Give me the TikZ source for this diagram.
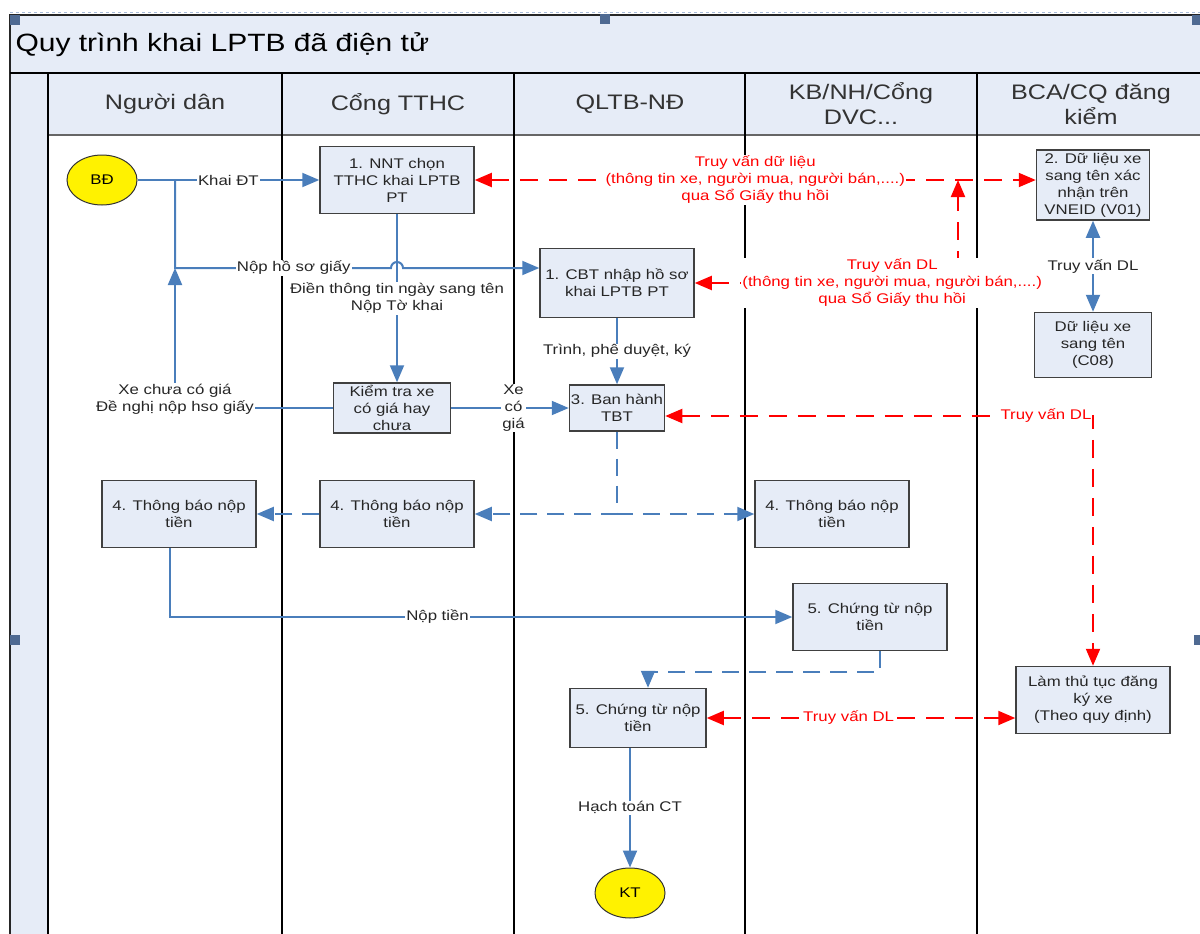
\documentclass[tikz,border=0pt]{standalone}
\usepackage{fontspec}
\setmainfont{Liberation Sans}[FakeStretch=1.2]
\usetikzlibrary{arrows.meta, shapes.geometric}
\definecolor{paleblue}{HTML}{E6ECF7}
\definecolor{flowblue}{HTML}{4A7EBB}
\definecolor{boxgray}{HTML}{404040}
\definecolor{handleblue}{HTML}{4F6A92}
\definecolor{selblue}{HTML}{A8BBD8}

\begin{document}
\begin{tikzpicture}[x=1pt, y=-1pt,
  box/.style={draw=boxgray, line width=1.5pt, fill=paleblue, align=center,
    minimum width=154pt, minimum height=67pt, inner sep=1pt,
    font=\fontsize{14}{17}\selectfont, text=black!85},
  term/.style={draw=black!80, line width=1pt, ellipse, fill=yellow,
    minimum width=70pt, minimum height=50pt, inner sep=0pt,
    font=\fontsize{14}{17}\selectfont},
  lanehead/.style={align=center, font=\fontsize{21}{25}\selectfont, text=black!80},
  lbl/.style={fill=white, inner sep=1pt, align=center,
    font=\fontsize{14}{17}\selectfont, text=black!85},
  redlbl/.style={lbl, text=red},
  arrowend/.style={-{Triangle[length=17pt,width=14pt]}},
  arrowboth/.style={{Triangle[length=17pt,width=14pt]}-{Triangle[length=17pt,width=14pt]}},
  flow/.style={draw=flowblue, line width=2pt, arrowend},
  notice/.style={flow, dash pattern=on 17pt off 10pt},
  query/.style={draw=red, line width=2pt, dash pattern=on 18pt off 11pt, arrowboth},
  laneline/.style={draw=black, line width=2pt}]
\useasboundingbox (0,0) rectangle (1200,934);

% pool and lanes
\fill[paleblue] (10,15) rectangle (1200,73);
\fill[paleblue] (48,73) rectangle (1200,135);
\fill[paleblue] (10,73) rectangle (48,934);
\draw[selblue, dashed, line width=0.8pt] (10,12) -- (1200,12);
\draw[black!85, line width=1.5pt] (1200,15) -- (10,15) -- (10,934);
\draw[black!60, line width=1.2pt] (48,135) -- (1200,135);
\draw[laneline] (10,73) -- (1200,73);
\foreach \x in {48,282,514,745,977}
  \draw[laneline] (\x,73) -- (\x,934);
\foreach \hx/\hy in {10/15, 600/14, 1192/15, 10/635, 1194/635}
  \fill[handleblue] (\hx,\hy) rectangle ++(10,10);

\node[anchor=west, font=\fontsize{25}{30}\selectfont] (title) at (12,45) {Quy trình khai LPTB đã điện tử};
\node[lanehead] (hdan) at (165,104) {Người dân};
\node[lanehead] (hcong) at (398,104) {Cổng TTHC};
\node[lanehead] (hqltb) at (630,104) {QLTB-NĐ};
\node[lanehead] (hkb) at (861,104) {KB/NH/Cổng\\DVC...};
\node[lanehead] (hbca) at (1091,104) {BCA/CQ đăng\\kiểm};

% steps
\node[term] (bd) at (102,180) {BĐ};
\node[box] (nnt) at (397,180) {1. NNT chọn\\TTHC khai LPTB\\PT};
\node[box, minimum width=113pt, minimum height=70pt, inner sep=0pt] (vneid) at (1093,185) {2. Dữ liệu xe\\sang tên xác\\nhận trên\\VNEID (V01)};
\node[box, minimum height=69pt] (cbt) at (617,283) {1. CBT nhập hồ sơ\\khai LPTB PT};
\node[box, minimum width=117pt, minimum height=65pt] (c08) at (1093,345) {Dữ liệu xe\\sang tên\\(C08)};
\node[box, minimum width=117pt, minimum height=50pt, inner sep=0pt] (kiemtra) at (392,408) {Kiểm tra xe\\có giá hay\\chưa};
\node[box, minimum width=95pt, minimum height=46pt] (tbt) at (617,408) {3. Ban hành\\TBT};
\node[box] (tbdan) at (179,514) {4. Thông báo nộp\\tiền};
\node[box] (tbcong) at (397,514) {4. Thông báo nộp\\tiền};
\node[box] (tbkb) at (832,514) {4. Thông báo nộp\\tiền};
\node[box] (ctkb) at (870,617) {5. Chứng từ nộp\\tiền};
\node[box, minimum width=136pt, minimum height=59pt] (ctql) at (638,718) {5. Chứng từ nộp\\tiền};
\node[box] (dangky) at (1093,700) {Làm thủ tục đăng\\ký xe\\(Theo quy định)};
\node[term] (kt) at (630,893) {KT};

\coordinate (split) at (175,180);
\coordinate (paper) at (175,268);
\coordinate (ask) at (958,180);
\coordinate (askdl) at (958,283);

% blue flows
\draw[flow] (bd.east) -- node[lbl]{Khai ĐT} (nnt.west);
\draw[flow] (split) -- (paper) -- node[lbl, pos=0.55]{Nộp hồ sơ giấy} (391,268)
  arc[start angle=180, end angle=0, radius=6pt] -- (paper -| cbt.west);
\draw[flow] (nnt.south) -- node[lbl]{Điền thông tin ngày sang tên\\Nộp Tờ khai} (nnt.south |- kiemtra.north);
\draw[flow] (kiemtra.west) -| node[lbl, pos=0.5, yshift=9pt]{Xe chưa có giá\\Đề nghị nộp hso giấy} (paper);
\draw[flow] (kiemtra.east) -- node[lbl, pos=0.53]{Xe\\có\\giá} (tbt.west);
\draw[flow] (cbt.south) -- node[lbl]{Trình, phê duyệt, ký} (tbt.north);
\draw[notice] (tbt.south) |- (tbcong.east);
\draw[notice] (tbt.south) |- (tbkb.west);
\draw[notice] (tbcong.west) -- (tbdan.east);
\draw[flow] ([xshift=-9pt]tbdan.south) |- node[lbl, pos=0.715]{Nộp tiền} (ctkb.west);
\draw[notice] ([xshift=10pt]ctkb.south) -- ++(0,21) -| ([xshift=10pt]ctql.north);
\draw[flow] (ctql.south -| kt.north) -- node[lbl]{Hạch toán CT} (kt.north);
\draw[flow, arrowboth] (vneid.south) -- node[lbl]{Truy vấn DL} (c08.north);

% red queries
\draw[query] (nnt.east) -- node[redlbl]{Truy vấn dữ liệu\\(thông tin xe, người mua, người bán,....)\\qua Sổ Giấy thu hồi} (nnt.east -| vneid.west);
\draw[query] (cbt.east) -- node[redlbl, pos=0.75]{Truy vấn DL\\(thông tin xe, người mua, người bán,....)\\qua Sổ Giấy thu hồi} (askdl) -- (ask);
\draw[query] ([yshift=-8pt]tbt.east) -| node[redlbl, pos=0.445]{Truy vấn DL} (dangky.north);
\draw[query] (ctql.east) -- node[redlbl, pos=0.46]{Truy vấn DL} (ctql.east -| dangky.west);
\end{tikzpicture}
\end{document}
